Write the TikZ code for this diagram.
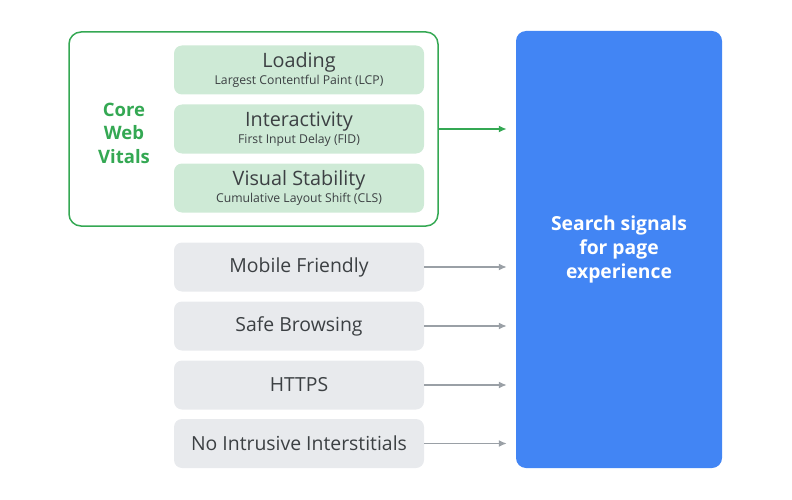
\documentclass[tikz,border=0pt]{standalone}
\usepackage{fontspec}
\setmainfont{Open Sans}
\usetikzlibrary{arrows.meta,positioning,shapes}
\definecolor{cwvgreen}{HTML}{34A853}
\definecolor{cwvfill}{HTML}{CEEAD6}
\definecolor{sigfill}{HTML}{E8EAED}
\definecolor{sigarrow}{HTML}{9AA0A6}
\definecolor{sigtext}{HTML}{3C4043}
\definecolor{gblue}{HTML}{4285F4}
\newcommand{\boxw}{250pt}
\newcommand{\boxh}{49pt}
\tikzset{
  vital/.style={fill=cwvfill, rounded corners=8pt, minimum width=\boxw, minimum height=\boxh,
    text=sigtext, align=center, inner sep=0pt},
  signal/.style={fill=sigfill, rounded corners=8pt, minimum width=\boxw, minimum height=\boxh,
    text=sigtext, font=\fontsize{19.4}{22}\selectfont, inner sep=0pt},
  feed/.style={-{Latex[length=8pt,width=7pt]}, line width=1.5pt, shorten >=9pt},
}
\newcommand{\vitaltext}[2]{{\fontsize{19.8}{22}\selectfont #1}\\[2pt]{\fontsize{12.2}{14}\selectfont #2}}

\begin{document}
\begin{tikzpicture}[x=1pt,y=-1pt]
  %\draw[help lines] (0,0) grid[step=50] (792,500);
  \useasboundingbox (0,0) rectangle (792,500);
  \node[draw=cwvgreen, line width=1.5pt, rounded corners=12pt, minimum width=369pt,
    minimum height=194pt] (cwv) at (253.5,129) {};
  \node[text=cwvgreen, align=center, font=\bfseries\fontsize{18.5}{23.5}\selectfont] (label) at (124,133)
    {Core\\Web\\Vitals};
  \node[vital] (lcp) at (299,70) {\vitaltext{Loading}{Largest Contentful Paint (LCP)}};
  \node[vital] (fid) at (299,129) {\vitaltext{Interactivity}{First Input Delay (FID)}};
  \node[vital] (cls) at (299,188) {\vitaltext{Visual Stability}{Cumulative Layout Shift (CLS)}};
  \node[signal] (mobile) at (299,267) {Mobile Friendly};
  \node[signal] (safe) at (299,326) {Safe Browsing};
  \node[signal] (https) at (299,385) {HTTPS};
  \node[signal] (popup) at (299,443.5) {No Intrusive Interstitials};
  \node[fill=gblue, rounded corners=10pt, minimum width=206pt, minimum height=437pt,
    text=white, align=center, font=\bfseries\fontsize{19.3}{24}\selectfont] (signals) at (619,249.5)
    {Search signals\\for page\\experience};
  % arrows into the signal box
  \draw[feed, cwvgreen, line width=1.8pt] (cwv.east) -- (signals.west |- cwv.east);
  \foreach \n in {mobile,safe,https,popup}
    \draw[feed, sigarrow] (\n.east) -- (signals.west |- \n.east);
\end{tikzpicture}
\end{document}
